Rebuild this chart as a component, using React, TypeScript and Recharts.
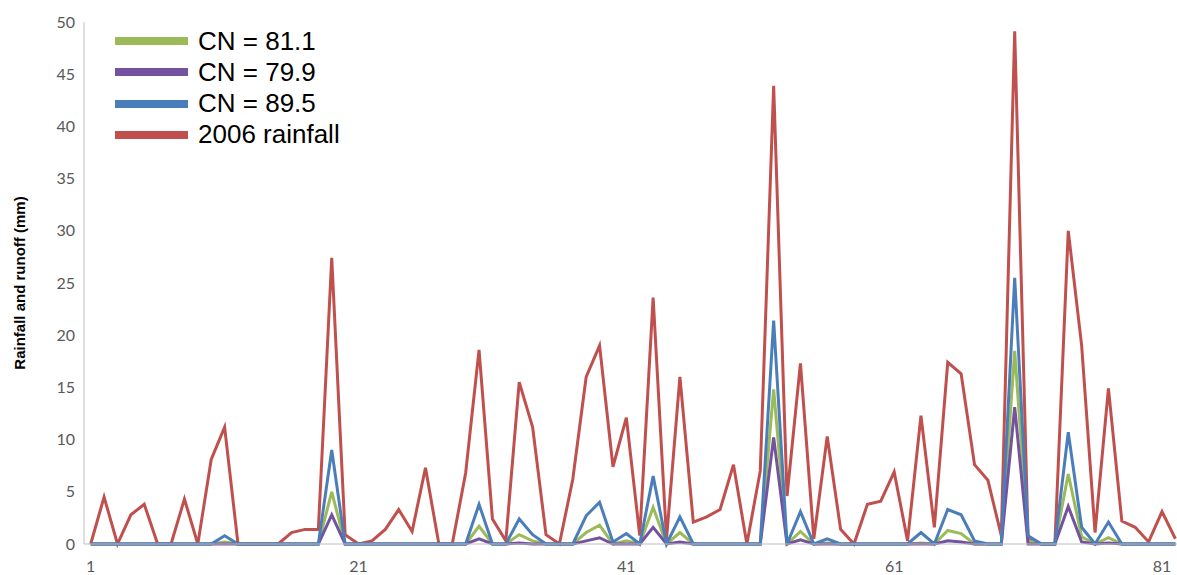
import { Line, LineChart, XAxis, YAxis } from "recharts";

// day index along the x axis
const days = [
  1, 2, 3, 4, 5, 6, 7, 8, 9, 10, 11, 12, 13, 14, 15, 16, 17, 18, 19, 20,
  21, 22, 23, 24, 25, 26, 27, 28, 29, 30, 31, 32, 33, 34, 35, 36, 37, 38, 39, 40,
  41, 42, 43, 44, 45, 46, 47, 48, 49, 50, 51, 52, 53, 54, 55, 56, 57, 58, 59, 60,
  61, 62, 63, 64, 65, 66, 67, 68, 69, 70, 71, 72, 73, 74, 75, 76, 77, 78, 79, 80,
  81, 82,
];

const rainfall2006 = [
  0, 4.5, 0, 2.8, 3.8, 0, 0, 4.3, 0, 8.1,
  11.2, 0, 0, 0, 0, 1.1, 1.4, 1.4, 27.4, 0.9,
  0, 0.3, 1.4, 3.3, 1.2, 7.3, 0, 0, 6.8, 18.6,
  2.4, 0.3, 15.5, 11.2, 0.9, 0, 6.2, 16, 19, 7.4,
  12.1, 0.8, 23.6, 0.5, 16, 2.1, 2.6, 3.3, 7.6, 0,
  7, 43.9, 4.6, 17.3, 0.5, 10.3, 1.4, 0, 3.8, 4.1,
  6.9, 0.3, 12.3, 1.6, 17.4, 16.3, 7.6, 6.1, 0.8, 49.1,
  0.5, 0, 0, 30, 19, 1.1, 14.9, 2.2, 1.6, 0.2,
  3.1, 0.5,
];

const cn895 = [
  0, 0, 0, 0, 0, 0, 0, 0, 0, 0,
  0.8, 0, 0, 0, 0, 0, 0, 0, 9.0, 0,
  0, 0, 0, 0, 0, 0, 0, 0, 0, 3.8,
  0, 0, 2.4, 0.9, 0, 0, 0, 2.7, 4.0, 0.2,
  1.0, 0, 6.5, 0, 2.6, 0, 0, 0, 0, 0,
  0, 21.4, 0, 3.1, 0, 0.5, 0, 0, 0, 0,
  0, 0, 1.1, 0, 3.3, 2.8, 0.3, 0, 0, 25.5,
  0.8, 0, 0, 10.7, 1.6, 0, 2.1, 0, 0, 0,
  0, 0,
];

const cn811 = [
  0, 0, 0, 0, 0, 0, 0, 0, 0, 0,
  0.2, 0, 0, 0, 0, 0, 0, 0, 5.0, 0,
  0, 0, 0, 0, 0, 0, 0, 0, 0, 1.7,
  0, 0, 0.9, 0.3, 0, 0, 0, 1.1, 1.8, 0,
  0.3, 0, 3.5, 0, 1.1, 0, 0, 0, 0, 0,
  0, 14.8, 0, 1.2, 0, 0.1, 0, 0, 0, 0,
  0, 0, 0.1, 0, 1.3, 1.0, 0, 0, 0, 18.5,
  0.3, 0, 0, 6.7, 0.7, 0, 0.6, 0, 0, 0,
  0, 0,
];

const cn799 = [
  0, 0, 0, 0, 0, 0, 0, 0, 0, 0,
  0, 0, 0, 0, 0, 0, 0, 0, 2.8, 0,
  0, 0, 0, 0, 0, 0, 0, 0, 0, 0.5,
  0, 0, 0.1, 0, 0, 0, 0, 0.3, 0.6, 0,
  0, 0, 1.6, 0, 0.2, 0, 0, 0, 0, 0,
  0, 10.2, 0, 0.4, 0, 0, 0, 0, 0, 0,
  0, 0, 0, 0, 0.3, 0.2, 0, 0, 0, 13.1,
  0, 0, 0, 3.6, 0.2, 0, 0.1, 0, 0, 0,
  0, 0,
];

const xTicks = [1, 21, 41, 61, 81];
const yTicks = [0, 5, 10, 15, 20, 25, 30, 35, 40, 45, 50];

const legendItems = [
  { name: "CN = 81.1", color: "#9BBB59" },
  { name: "CN = 79.9", color: "#7452A0" },
  { name: "CN = 89.5", color: "#4A7EBB" },
  { name: "2006 rainfall", color: "#C0504D" },
];

const data = days.map((day, i) => ({
  day,
  rain: rainfall2006[i],
  cn895: cn895[i],
  cn811: cn811[i],
  cn799: cn799[i],
}));

const tickStyle = { fontFamily: "Lato", fontSize: 16, fill: "#595959" };

/**
 * Rotated y axis title
 */
const YTitle = () => (
  <text
    transform="translate(19,283) rotate(-90)"
    textAnchor="middle"
    dominantBaseline="central"
    fontFamily="Liberation Sans"
    fontWeight="bold"
    fontSize={15}
    fill="#000"
  >
    Rainfall and runoff (mm)
  </text>
);

/**
 * Rainfall vs runoff chart
 */
const App = () => {
  return (
    <div style={{ position: "relative", width: 1177, height: 575 }}>
      <style>{`body{margin:0}`}</style>
      <LineChart width={1177} height={575} data={data} margin={{ top: 22, right: 0, bottom: 0, left: 0 }}>
        <XAxis
          type="number"
          dataKey="day"
          domain={[0.5, 82.12]}
          ticks={xTicks}
          tickLine={false}
          tickMargin={11}
          height={31}
          axisLine={{ stroke: "#BFBFBF" }}
          tick={tickStyle}
          allowDataOverflow
        />
        <YAxis
          type="number"
          domain={[0, 50]}
          ticks={yTicks}
          width={84}
          tickLine={false}
          tickMargin={3}
          axisLine={{ stroke: "#BFBFBF" }}
          tick={tickStyle}
          label={<YTitle />}
        />
        <Line type="linear" dataKey="rain" stroke="#C0504D" strokeWidth={3} dot={false} isAnimationActive={false} />
        <Line type="linear" dataKey="cn811" stroke="#9BBB59" strokeWidth={3} dot={false} isAnimationActive={false} />
        <Line type="linear" dataKey="cn799" stroke="#7452A0" strokeWidth={3} dot={false} isAnimationActive={false} />
        <Line type="linear" dataKey="cn895" stroke="#4A7EBB" strokeWidth={3} dot={false} isAnimationActive={false} />
      </LineChart>
      {legendItems.map((item, i) => (
        <div
          key={item.name}
          style={{
            position: "absolute",
            left: 115,
            top: 41 + i * 31.3 - 15,
            height: 30,
            display: "flex",
            alignItems: "center",
            fontFamily: "Liberation Sans",
            fontSize: 26,
            color: "#000",
            whiteSpace: "nowrap",
          }}
        >
          <span style={{ display: "inline-block", width: 73, height: 8, background: item.color, marginRight: 10 }} />
          {item.name}
        </div>
      ))}
    </div>
  );
};

export default App;
